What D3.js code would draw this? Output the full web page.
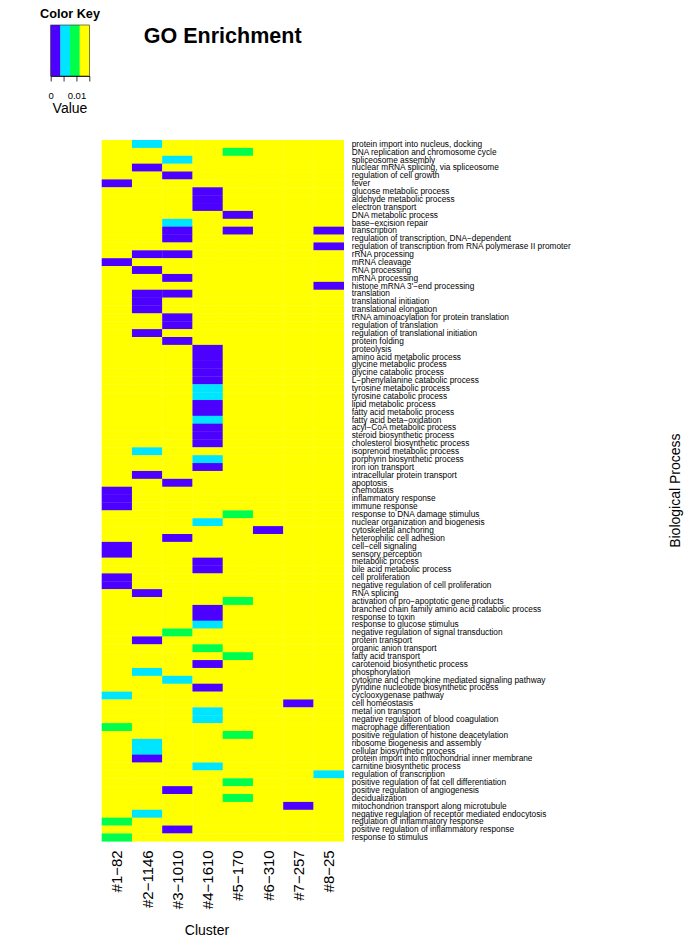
<!DOCTYPE html>
<html>
<head>
<meta charset="utf-8">
<title>GO Enrichment</title>
<script src="https://cdn.jsdelivr.net/npm/d3@7"></script>
<style>
  body { margin: 0; background: #fff; }
  text { font-family: "Liberation Sans", Arial, Helvetica, sans-serif; fill: #000; }
</style>
</head>
<body>
<div id="chart"></div>
<script>

// clusters (columns) and GO terms (rows), top to bottom
const clusters = ["#1−82", "#2−1146", "#3−1010", "#4−1610", "#5−170", "#6−310", "#7−257", "#8−25"];

const terms = [
  "protein import into nucleus, docking",
  "DNA replication and chromosome cycle",
  "spliceosome assembly",
  "nuclear mRNA splicing, via spliceosome",
  "regulation of cell growth",
  "fever",
  "glucose metabolic process",
  "aldehyde metabolic process",
  "electron transport",
  "DNA metabolic process",
  "base−excision repair",
  "transcription",
  "regulation of transcription, DNA−dependent",
  "regulation of transcription from RNA polymerase II promoter",
  "rRNA processing",
  "mRNA cleavage",
  "RNA processing",
  "mRNA processing",
  "histone mRNA 3'−end processing",
  "translation",
  "translational initiation",
  "translational elongation",
  "tRNA aminoacylation for protein translation",
  "regulation of translation",
  "regulation of translational initiation",
  "protein folding",
  "proteolysis",
  "amino acid metabolic process",
  "glycine metabolic process",
  "glycine catabolic process",
  "L−phenylalanine catabolic process",
  "tyrosine metabolic process",
  "tyrosine catabolic process",
  "lipid metabolic process",
  "fatty acid metabolic process",
  "fatty acid beta−oxidation",
  "acyl−CoA metabolic process",
  "steroid biosynthetic process",
  "cholesterol biosynthetic process",
  "isoprenoid metabolic process",
  "porphyrin biosynthetic process",
  "iron ion transport",
  "intracellular protein transport",
  "apoptosis",
  "chemotaxis",
  "inflammatory response",
  "immune response",
  "response to DNA damage stimulus",
  "nuclear organization and biogenesis",
  "cytoskeletal anchoring",
  "heterophilic cell adhesion",
  "cell−cell signaling",
  "sensory perception",
  "metabolic process",
  "bile acid metabolic process",
  "cell proliferation",
  "negative regulation of cell proliferation",
  "RNA splicing",
  "activation of pro−apoptotic gene products",
  "branched chain family amino acid catabolic process",
  "response to toxin",
  "response to glucose stimulus",
  "negative regulation of signal transduction",
  "protein transport",
  "organic anion transport",
  "fatty acid transport",
  "carotenoid biosynthetic process",
  "phosphorylation",
  "cytokine and chemokine mediated signaling pathway",
  "pyridine nucleotide biosynthetic process",
  "cyclooxygenase pathway",
  "cell homeostasis",
  "metal ion transport",
  "negative regulation of blood coagulation",
  "macrophage differentiation",
  "positive regulation of histone deacetylation",
  "ribosome biogenesis and assembly",
  "cellular biosynthetic process",
  "protein import into mitochondrial inner membrane",
  "carnitine biosynthetic process",
  "regulation of transcription",
  "positive regulation of fat cell differentiation",
  "positive regulation of angiogenesis",
  "decidualization",
  "mitochondrion transport along microtubule",
  "negative regulation of receptor mediated endocytosis",
  "regulation of inflammatory response",
  "positive regulation of inflammatory response",
  "response to stimulus"
];

// enrichment values, one row per term, one value per cluster (estimated from the bins)
const values = [
  [0.015, 0.005, 0.015, 0.015, 0.015, 0.015, 0.015, 0.015],
  [0.015, 0.015, 0.015, 0.015, 0.009, 0.015, 0.015, 0.015],
  [0.015, 0.015, 0.005, 0.015, 0.015, 0.015, 0.015, 0.015],
  [0.015, 0.001, 0.015, 0.015, 0.015, 0.015, 0.015, 0.015],
  [0.015, 0.015, 0.001, 0.015, 0.015, 0.015, 0.015, 0.015],
  [0.001, 0.015, 0.015, 0.015, 0.015, 0.015, 0.015, 0.015],
  [0.015, 0.015, 0.015, 0.001, 0.015, 0.015, 0.015, 0.015],
  [0.015, 0.015, 0.015, 0.001, 0.015, 0.015, 0.015, 0.015],
  [0.015, 0.015, 0.015, 0.001, 0.015, 0.015, 0.015, 0.015],
  [0.015, 0.015, 0.015, 0.015, 0.001, 0.015, 0.015, 0.015],
  [0.015, 0.015, 0.005, 0.015, 0.015, 0.015, 0.015, 0.015],
  [0.015, 0.015, 0.001, 0.015, 0.001, 0.015, 0.015, 0.001],
  [0.015, 0.015, 0.001, 0.015, 0.015, 0.015, 0.015, 0.015],
  [0.015, 0.015, 0.015, 0.015, 0.015, 0.015, 0.015, 0.001],
  [0.015, 0.001, 0.001, 0.015, 0.015, 0.015, 0.015, 0.015],
  [0.001, 0.015, 0.015, 0.015, 0.015, 0.015, 0.015, 0.015],
  [0.015, 0.001, 0.015, 0.015, 0.015, 0.015, 0.015, 0.015],
  [0.015, 0.015, 0.001, 0.015, 0.015, 0.015, 0.015, 0.015],
  [0.015, 0.015, 0.015, 0.015, 0.015, 0.015, 0.015, 0.001],
  [0.015, 0.001, 0.001, 0.015, 0.015, 0.015, 0.015, 0.015],
  [0.015, 0.001, 0.015, 0.015, 0.015, 0.015, 0.015, 0.015],
  [0.015, 0.001, 0.015, 0.015, 0.015, 0.015, 0.015, 0.015],
  [0.015, 0.015, 0.001, 0.015, 0.015, 0.015, 0.015, 0.015],
  [0.015, 0.015, 0.001, 0.015, 0.015, 0.015, 0.015, 0.015],
  [0.015, 0.001, 0.015, 0.015, 0.015, 0.015, 0.015, 0.015],
  [0.015, 0.015, 0.001, 0.015, 0.015, 0.015, 0.015, 0.015],
  [0.015, 0.015, 0.015, 0.001, 0.015, 0.015, 0.015, 0.015],
  [0.015, 0.015, 0.015, 0.001, 0.015, 0.015, 0.015, 0.015],
  [0.015, 0.015, 0.015, 0.001, 0.015, 0.015, 0.015, 0.015],
  [0.015, 0.015, 0.015, 0.001, 0.015, 0.015, 0.015, 0.015],
  [0.015, 0.015, 0.015, 0.001, 0.015, 0.015, 0.015, 0.015],
  [0.015, 0.015, 0.015, 0.005, 0.015, 0.015, 0.015, 0.015],
  [0.015, 0.015, 0.015, 0.005, 0.015, 0.015, 0.015, 0.015],
  [0.015, 0.015, 0.015, 0.001, 0.015, 0.015, 0.015, 0.015],
  [0.015, 0.015, 0.015, 0.001, 0.015, 0.015, 0.015, 0.015],
  [0.015, 0.015, 0.015, 0.005, 0.015, 0.015, 0.015, 0.015],
  [0.015, 0.015, 0.015, 0.001, 0.015, 0.015, 0.015, 0.015],
  [0.015, 0.015, 0.015, 0.001, 0.015, 0.015, 0.015, 0.015],
  [0.015, 0.015, 0.015, 0.001, 0.015, 0.015, 0.015, 0.015],
  [0.015, 0.005, 0.015, 0.015, 0.015, 0.015, 0.015, 0.015],
  [0.015, 0.015, 0.015, 0.005, 0.015, 0.015, 0.015, 0.015],
  [0.015, 0.015, 0.015, 0.001, 0.015, 0.015, 0.015, 0.015],
  [0.015, 0.001, 0.015, 0.015, 0.015, 0.015, 0.015, 0.015],
  [0.015, 0.015, 0.001, 0.015, 0.015, 0.015, 0.015, 0.015],
  [0.001, 0.015, 0.015, 0.015, 0.015, 0.015, 0.015, 0.015],
  [0.001, 0.015, 0.015, 0.015, 0.015, 0.015, 0.015, 0.015],
  [0.001, 0.015, 0.015, 0.015, 0.015, 0.015, 0.015, 0.015],
  [0.015, 0.015, 0.015, 0.015, 0.009, 0.015, 0.015, 0.015],
  [0.015, 0.015, 0.015, 0.005, 0.015, 0.015, 0.015, 0.015],
  [0.015, 0.015, 0.015, 0.015, 0.015, 0.001, 0.015, 0.015],
  [0.015, 0.015, 0.001, 0.015, 0.015, 0.015, 0.015, 0.015],
  [0.001, 0.015, 0.015, 0.015, 0.015, 0.015, 0.015, 0.015],
  [0.001, 0.015, 0.015, 0.015, 0.015, 0.015, 0.015, 0.015],
  [0.015, 0.015, 0.015, 0.001, 0.015, 0.015, 0.015, 0.015],
  [0.015, 0.015, 0.015, 0.001, 0.015, 0.015, 0.015, 0.015],
  [0.001, 0.015, 0.015, 0.015, 0.015, 0.015, 0.015, 0.015],
  [0.001, 0.015, 0.015, 0.015, 0.015, 0.015, 0.015, 0.015],
  [0.015, 0.001, 0.015, 0.015, 0.015, 0.015, 0.015, 0.015],
  [0.015, 0.015, 0.015, 0.015, 0.009, 0.015, 0.015, 0.015],
  [0.015, 0.015, 0.015, 0.001, 0.015, 0.015, 0.015, 0.015],
  [0.015, 0.015, 0.015, 0.001, 0.015, 0.015, 0.015, 0.015],
  [0.015, 0.015, 0.015, 0.005, 0.015, 0.015, 0.015, 0.015],
  [0.015, 0.015, 0.009, 0.015, 0.015, 0.015, 0.015, 0.015],
  [0.015, 0.001, 0.015, 0.015, 0.015, 0.015, 0.015, 0.015],
  [0.015, 0.015, 0.015, 0.009, 0.015, 0.015, 0.015, 0.015],
  [0.015, 0.015, 0.015, 0.015, 0.009, 0.015, 0.015, 0.015],
  [0.015, 0.015, 0.015, 0.001, 0.015, 0.015, 0.015, 0.015],
  [0.015, 0.005, 0.015, 0.015, 0.015, 0.015, 0.015, 0.015],
  [0.015, 0.015, 0.005, 0.015, 0.015, 0.015, 0.015, 0.015],
  [0.015, 0.015, 0.015, 0.001, 0.015, 0.015, 0.015, 0.015],
  [0.005, 0.015, 0.015, 0.015, 0.015, 0.015, 0.015, 0.015],
  [0.015, 0.015, 0.015, 0.015, 0.015, 0.015, 0.001, 0.015],
  [0.015, 0.015, 0.015, 0.005, 0.015, 0.015, 0.015, 0.015],
  [0.015, 0.015, 0.015, 0.005, 0.015, 0.015, 0.015, 0.015],
  [0.009, 0.015, 0.015, 0.015, 0.015, 0.015, 0.015, 0.015],
  [0.015, 0.015, 0.015, 0.015, 0.009, 0.015, 0.015, 0.015],
  [0.015, 0.005, 0.015, 0.015, 0.015, 0.015, 0.015, 0.015],
  [0.015, 0.005, 0.015, 0.015, 0.015, 0.015, 0.015, 0.015],
  [0.015, 0.001, 0.015, 0.015, 0.015, 0.015, 0.015, 0.015],
  [0.015, 0.015, 0.015, 0.005, 0.015, 0.015, 0.015, 0.015],
  [0.015, 0.015, 0.015, 0.015, 0.015, 0.015, 0.015, 0.005],
  [0.015, 0.015, 0.015, 0.015, 0.009, 0.015, 0.015, 0.015],
  [0.015, 0.015, 0.001, 0.015, 0.015, 0.015, 0.015, 0.015],
  [0.015, 0.015, 0.015, 0.015, 0.009, 0.015, 0.015, 0.015],
  [0.015, 0.015, 0.015, 0.015, 0.015, 0.015, 0.001, 0.015],
  [0.015, 0.005, 0.015, 0.015, 0.015, 0.015, 0.015, 0.015],
  [0.009, 0.015, 0.015, 0.015, 0.015, 0.015, 0.015, 0.015],
  [0.015, 0.015, 0.001, 0.015, 0.015, 0.015, 0.015, 0.015],
  [0.009, 0.015, 0.015, 0.015, 0.015, 0.015, 0.015, 0.015]
];

// colour key: bin breaks, colours (R topo.colors(4)), tick values
const keyBreaks = [0, 0.00375, 0.0075, 0.01125, 0.015];
const keyColors = ["#4C00FF", "#00E5FF", "#00FF4D", "#FFFF00"];
const keyTicks = [0, 0.005, 0.01, 0.015];
const keyTickLabels = ["0", "", "0.01", ""];

const width = 685,
      height = 941,
      heat = { left: 101.7, right: 343.7, top: 140, bottom: 841.3 };

const svg = d3.select("#chart")
  .append("svg")
  .attr("width", width)
  .attr("height", height);

const x = d3.scaleBand()
  .domain(clusters)
  .range([heat.left, heat.right]);

const y = d3.scaleBand()
  .domain(terms)
  .range([heat.top, heat.bottom]);

const color = d3.scaleThreshold()
  .domain(keyBreaks.slice(1, -1))
  .range(keyColors);

// flatten the matrix into cells
const cells = [];
terms.forEach(function(t, i) {
  clusters.forEach(function(c, j) {
    cells.push({ term: t, cluster: c, value: values[i][j] });
  });
});

svg.append("g")
  .selectAll("rect")
  .data(cells)
  .enter()
  .append("rect")
  .attr("x", d => x(d.cluster))
  .attr("y", d => y(d.term))
  .attr("width", x.bandwidth() + 0.3)
  .attr("height", y.bandwidth() + 0.3)
  .attr("fill", d => color(d.value));

// row labels on the right
const rowAxis = svg.append("g")
  .attr("transform", `translate(${heat.right}, 0)`)
  .call(d3.axisRight(y).tickSize(0).tickPadding(8));
rowAxis.select(".domain").remove();
rowAxis.selectAll("text")
  .style("font-size", "8.3px")
  .style("font-family", "'Liberation Sans', Arial, sans-serif")
  .attr("dy", "0.34em")
  .attr("fill", "#000");

// column labels, rotated
const colAxis = svg.append("g")
  .attr("transform", `translate(0, ${heat.bottom})`)
  .call(d3.axisBottom(x).tickSize(0));
colAxis.select(".domain").remove();
colAxis.selectAll("text")
  .style("font-size", "15px")
  .style("font-family", "'Liberation Sans', Arial, sans-serif")
  .attr("fill", "#000")
  .attr("text-anchor", "end")
  .attr("dy", null)
  .attr("y", 0)
  .attr("transform", "translate(5.5, 9) rotate(-90)");

// axis titles
svg.append("text")
  .attr("x", 207)
  .attr("y", 935)
  .attr("text-anchor", "middle")
  .style("font-size", "14px")
  .text("Cluster");

svg.append("text")
  .attr("transform", `translate(680, ${(heat.top + heat.bottom) / 2}) rotate(-90)`)
  .attr("text-anchor", "middle")
  .style("font-size", "14px")
  .text("Biological Process");

svg.append("text")
  .attr("x", (heat.left + heat.right) / 2)
  .attr("y", 43)
  .attr("text-anchor", "middle")
  .style("font-size", "21.5px")
  .style("font-weight", "bold")
  .text("GO Enrichment");

// colour key
const key = { left: 50.7, right: 89.3, top: 25, bottom: 76 };
const kx = d3.scaleLinear()
  .domain([keyBreaks[0], keyBreaks[keyBreaks.length - 1]])
  .range([key.left, key.right]);

svg.append("text")
  .attr("x", 70)
  .attr("y", 18)
  .attr("text-anchor", "middle")
  .style("font-size", "12.7px")
  .style("font-weight", "bold")
  .text("Color Key");

svg.append("g")
  .selectAll("rect")
  .data(keyColors)
  .enter()
  .append("rect")
  .attr("x", (d, i) => kx(keyBreaks[i]))
  .attr("y", key.top)
  .attr("width", (d, i) => kx(keyBreaks[i + 1]) - kx(keyBreaks[i]) + 0.3)
  .attr("height", key.bottom - key.top)
  .attr("fill", d => d);

svg.append("rect")
  .attr("x", key.left)
  .attr("y", key.top)
  .attr("width", key.right - key.left)
  .attr("height", key.bottom - key.top)
  .attr("fill", "none")
  .attr("stroke", "#222")
  .attr("stroke-width", 0.6);

const keyAxis = svg.append("g")
  .attr("transform", `translate(0, ${key.bottom})`)
  .call(d3.axisBottom(kx)
    .tickValues(keyTicks)
    .tickFormat((d, i) => keyTickLabels[i])
    .tickSize(5.5)
    .tickSizeOuter(0)
    .tickPadding(11));
keyAxis.selectAll("line, path").attr("stroke", "#000").attr("stroke-width", 0.8);
keyAxis.selectAll("text")
  .style("font-size", "9.5px")
  .style("font-family", "'Liberation Sans', Arial, sans-serif")
  .attr("fill", "#000");

svg.append("text")
  .attr("x", 70)
  .attr("y", 113)
  .attr("text-anchor", "middle")
  .style("font-size", "14px")
  .text("Value");

</script>
</body>
</html>
